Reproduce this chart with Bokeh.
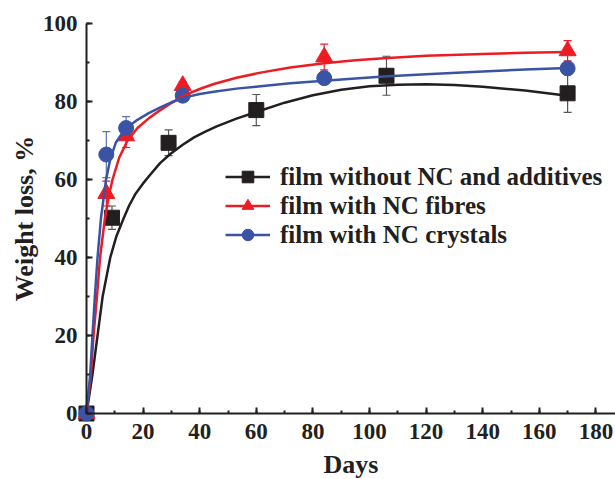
from bokeh.plotting import figure
from bokeh.models import (ColumnDataSource, Whisker, TeeHead, Legend, LegendItem,
                          Range1d, SingleIntervalTicker)
from bokeh.embed import file_html
from bokeh.resources import INLINE

# Measured weight loss (mean and error) of the films during burial
days_plain = [0, 9, 29, 60, 106, 170]
loss_plain = [0, 50.2, 69.4, 77.8, 86.6, 82.1]
err_plain = [0, 3.0, 3.3, 4.0, 5.0, 4.9]

days_nc = [0, 7, 14, 34, 84, 170]
loss_fibres = [0, 56.4, 71.2, 84.1, 91.4, 93.0]
err_fibres = [0, 3.2, 3.0, 1.0, 3.3, 2.6]
loss_crystals = [0, 66.4, 73.2, 81.5, 86.0, 88.5]
err_crystals = [0, 5.9, 2.9, 1.0, 1.0, 1.0]

# Fitted trend curves
fit_days_plain = [0, 2.1, 3.9, 5.7, 8.4, 10.5, 13.1, 15, 17.2, 20, 22.5, 26, 29.7, 34, 38, 42,
                  46, 53, 60, 70, 80, 90, 100, 110, 120, 130, 140, 155, 170]
fit_plain = [0, 10, 20, 30, 40, 45.3, 50, 53.2, 56.2, 59, 61.2, 64.2, 66.6, 68.9, 70.8, 72.3,
             73.6, 75.6, 77.3, 79.7, 81.6, 83, 83.9, 84.3, 84.4, 84.2, 83.8, 82.8, 81.5]

fit_days_fibres = [0, 1.55, 2.5, 3.7, 4.8, 6.5, 7.8, 9.2, 11.5, 14.5, 18, 22.2, 26.1, 30, 34.4,
                   40, 45, 53, 61.5, 72, 84, 95, 105, 120, 140, 155, 170]
fit_fibres = [0, 10, 20, 30, 40, 50, 55.5, 60, 65.5, 70, 73.2, 75.8, 77.8, 79.6, 81.5,
              83.2, 84.5, 86.1, 87.4, 88.7, 89.8, 90.6, 91.1, 91.7, 92.2, 92.5, 92.7]

fit_days_crystals = [0, 1.3, 2.1, 2.95, 3.9, 5.1, 6.9, 8.5, 10.4, 13, 15.5, 18, 22, 26.1, 30,
                     34.4, 40, 45, 53, 61.5, 72, 84, 95, 105, 120, 140, 155, 170]
fit_crystals = [0, 10, 20, 30, 40, 50, 60, 65.5, 69.5, 72.3, 74, 75.3, 77, 78.5, 79.8,
                81, 81.9, 82.5, 83.3, 83.9, 84.7, 85.3, 85.9, 86.4, 87, 87.7, 88.2, 88.6]

labels = ["film without NC and additives", "film with NC fibres", "film with NC crystals"]

BLACK = "#231f20"
RED = "#ed1c24"
BLUE = "#3a53a4"
FONT = "Liberation Serif"

# The frame covers the whole canvas; the axes sit at x=0 / y=0 inside it.
W, H = 615, 479
X0_PX, Y0_PX = 86, 413      # canvas position of the origin
KX, KY = 2.83, 3.9          # px per data unit

p = figure(width=W, height=H,
           x_range=Range1d(-X0_PX / KX, (W - X0_PX) / KX),
           y_range=Range1d(-(H - Y0_PX) / KY, Y0_PX / KY),
           output_backend="svg", toolbar_location=None,
           min_border_left=0, min_border_right=0, min_border_top=0, min_border_bottom=0)
p.outline_line_color = None
p.xgrid.visible = False
p.ygrid.visible = False
p.background_fill_color = "white"
p.border_fill_color = "white"

for ax in (p.xaxis[0], p.yaxis[0]):
    ax.fixed_location = 0
    ax.axis_line_width = 2
    ax.axis_line_color = BLACK
    ax.major_tick_line_width = 2
    ax.minor_tick_line_width = 2
    ax.major_tick_line_color = BLACK
    ax.minor_tick_line_color = BLACK
    ax.major_tick_in = 6
    ax.major_tick_out = 0
    ax.minor_tick_in = 3
    ax.minor_tick_out = 0
    ax.major_label_text_font = FONT
    ax.major_label_text_font_style = "bold"
    ax.major_label_text_font_size = "23px"
    ax.major_label_text_color = BLACK
    ax.axis_label_text_font = FONT
    ax.axis_label_text_font_style = "bold"
    ax.axis_label_text_font_size = "26px"
    ax.axis_label_text_color = BLACK
    ax.ticker = SingleIntervalTicker(interval=20, num_minor_ticks=2)

p.xaxis[0].bounds = (0, (W - X0_PX) / KX)
p.yaxis[0].bounds = (0, 100)
p.xaxis[0].axis_label = "Days"
p.yaxis[0].axis_label = "Weight loss, %"
p.xaxis[0].major_label_standoff = 10
p.yaxis[0].major_label_standoff = 9
p.xaxis[0].axis_label_standoff = 8
p.yaxis[0].axis_label_standoff = 1

series = [
    (days_plain, loss_plain, err_plain, fit_days_plain, fit_plain, BLACK, "#555555", "square", 15),
    (days_nc, loss_fibres, err_fibres, fit_days_fibres, fit_fibres, RED, RED, "triangle", 17),
    (days_nc, loss_crystals, err_crystals, fit_days_crystals, fit_crystals, BLUE, "#5a72b8", "circle", 15),
]

markers = []
for xs, ys, es, fx, fy, col, ecol, mk, size in series:
    src = ColumnDataSource(dict(x=xs, y=ys,
                                upper=[y + e for y, e in zip(ys, es)],
                                lower=[y - e for y, e in zip(ys, es)]))
    w = Whisker(base="x", upper="upper", lower="lower", source=src,
                line_color=ecol, line_width=1.2,
                upper_head=TeeHead(size=8, line_color=ecol, line_width=1.2),
                lower_head=TeeHead(size=8, line_color=ecol, line_width=1.2))
    p.add_layout(w)
    m = p.scatter("x", "y", source=src, marker=mk, size=size,
                  fill_color=col, line_color=col)
    markers.append(m)

curves = []
for (xs, ys, es, fx, fy, col, ecol, mk, size) in series:
    c = p.line(fx, fy, line_color=col, line_width=2.5, line_join="round")
    curves.append(c)

items = [LegendItem(label=lab, renderers=[c, m]) for lab, c, m in zip(labels, curves, markers)]
legend = Legend(items=items, location=(225, 230),
                glyph_width=45, glyph_height=29, label_height=29,
                spacing=0, padding=0, margin=0, label_standoff=10,
                label_text_font=FONT, label_text_font_style="bold",
                label_text_font_size="25px", label_text_color=BLACK,
                border_line_color=None, background_fill_alpha=0)
p.add_layout(legend)

open("out.html", "w").write(file_html(p, INLINE))
